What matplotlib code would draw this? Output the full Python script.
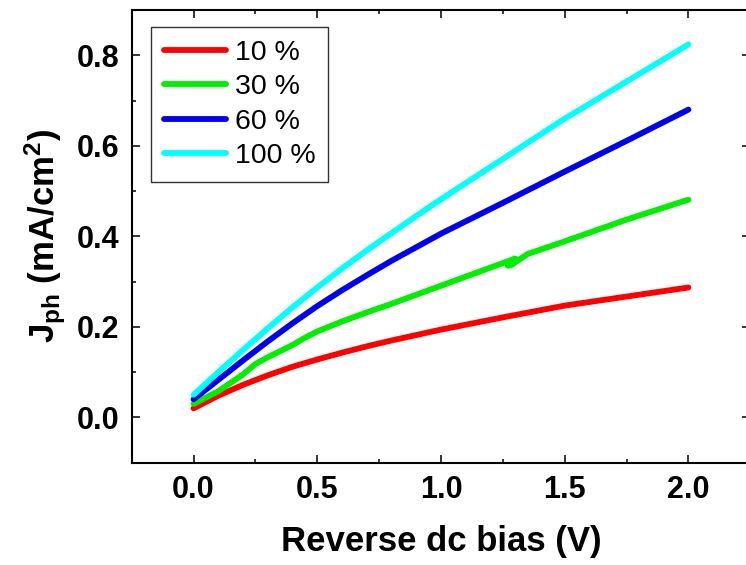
import matplotlib
matplotlib.use("Agg")
import matplotlib.pyplot as plt
from matplotlib.ticker import MultipleLocator

plt.rcParams['font.family'] = ['Liberation Sans', 'DejaVu Sans']
plt.rcParams['mathtext.fontset'] = 'custom'
plt.rcParams['mathtext.rm'] = 'Liberation Sans:bold'
plt.rcParams['mathtext.it'] = 'Liberation Sans:bold'
plt.rcParams['mathtext.bf'] = 'Liberation Sans:bold'

# Data
v_common = [0.0, 0.1, 0.2, 0.3, 0.4, 0.5, 0.6, 0.7, 0.8, 0.9, 1.0, 1.25, 1.5, 1.75, 2.0]
j_red = [0.020, 0.048, 0.072, 0.093, 0.112, 0.128, 0.143, 0.157, 0.170, 0.182, 0.194,
         0.221, 0.247, 0.267, 0.287]
j_blue = [0.040, 0.083, 0.126, 0.168, 0.208, 0.246, 0.281, 0.314, 0.346, 0.376, 0.406,
          0.474, 0.543, 0.611, 0.680]
j_cyan = [0.050, 0.100, 0.149, 0.197, 0.243, 0.287, 0.329, 0.369, 0.407, 0.445, 0.482,
          0.571, 0.660, 0.742, 0.824]

v_green = [0.0, 0.1, 0.2, 0.25, 0.3, 0.4, 0.45, 0.5, 0.6, 0.7, 0.8, 0.9, 1.0, 1.1, 1.2,
           1.24, 1.30, 1.27, 1.285, 1.35, 1.5, 1.75, 2.0]
j_green = [0.030, 0.058, 0.095, 0.118, 0.133, 0.160, 0.176, 0.190, 0.212, 0.232, 0.251,
           0.271, 0.291, 0.311, 0.331, 0.339, 0.351, 0.335, 0.337, 0.361, 0.389, 0.437, 0.481]

labels = ['10 %', '30 %', '60 %', '100 %']
colors = ['#ff0000', '#00ee00', '#0000ee', '#00ffff']

fig = plt.figure(figsize=(7.46, 5.65), dpi=100)
ax = fig.add_axes([131.7 / 746, (565 - 462.7) / 565, (750.3 - 131.7) / 746, (462.7 - 10) / 565])

series = [(v_common, j_red), (v_green, j_green), (v_common, j_blue), (v_common, j_cyan)]
for (v, j), c, lab in zip(series, colors, labels):
    ax.plot(v, j, color=c, lw=4.2, label=lab, solid_capstyle='round', solid_joinstyle='round')

ax.set_xlim(-0.25, 2.25)
ax.set_ylim(-0.1, 0.9)
ax.xaxis.set_minor_locator(MultipleLocator(0.25))
ax.yaxis.set_minor_locator(MultipleLocator(0.1))
ax.set_xticks([0.0, 0.5, 1.0, 1.5, 2.0])
ax.set_yticks([0.0, 0.2, 0.4, 0.6, 0.8])

ax.tick_params(which='both', direction='in', top=True, right=True, width=1.1)
ax.tick_params(which='major', length=6, labelsize=22, pad=9)
ax.tick_params(which='minor', length=3)
for lab in ax.get_xticklabels() + ax.get_yticklabels():
    lab.set_fontweight('bold')
for s in ax.spines.values():
    s.set_linewidth(1.5)

ax.set_xlabel('Reverse dc bias (V)', fontsize=25, fontweight='bold', labelpad=14)
ax.set_ylabel(r'J$_{\rm ph}$ (mA/cm$^{\rm 2}$)', fontsize=25, fontweight='bold', labelpad=6)

leg = ax.legend(loc='upper left', bbox_to_anchor=(0.031, 0.9625), fontsize=20.5,
                frameon=True, fancybox=False, edgecolor='black', handlelength=2.2,
                handletextpad=0.3, labelspacing=0.3, borderpad=0.45, borderaxespad=0)
leg.get_frame().set_linewidth(1.0)

fig.savefig('out.png', dpi=100)
